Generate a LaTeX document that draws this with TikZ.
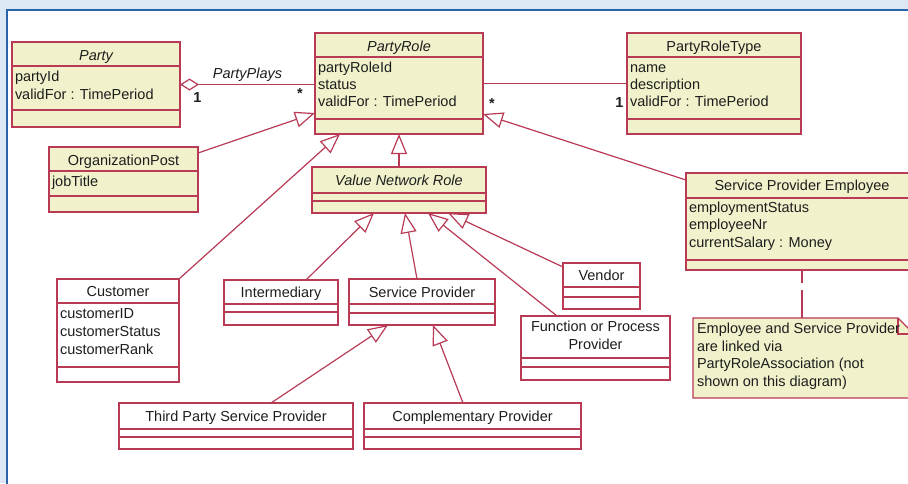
\documentclass[tikz,border=0pt]{standalone}
\usepackage{fontspec}
\setmainfont{Liberation Sans}
\usetikzlibrary{arrows.meta,calc}

\definecolor{umlred}{HTML}{B83A55}
\definecolor{umlfill}{HTML}{F1F1CB}
\definecolor{framebg}{HTML}{DCE8F4}
\definecolor{frameblue}{HTML}{2A64AC}
\definecolor{ink}{HTML}{1E1E1E}

% UML class box: name, x1, y1, x2, y2 (pixel grid, y downwards), fill, divider rows
\newcommand\umlclass[7]{%
  \node[classbox, fill=#6, minimum width=#4pt-#2pt, minimum height=#5pt-#3pt,
        anchor=north west] (#1) at (#2,#3) {};
  \foreach \d in {#7} \draw[classline] (#1.west |- 0,\d) -- (#1.east |- 0,\d);
}

\begin{document}
\begin{tikzpicture}[x=1pt, y=-1pt,
  every node/.style={inner sep=0pt, outer sep=0pt, text=ink,
                     font=\fontsize{14.5}{17}\selectfont},
  classbox/.style={draw=umlred, line width=1.2pt, rectangle},
  classline/.style={draw=umlred, line width=1.2pt},
  hdr/.style={anchor=base},
  ihdr/.style={anchor=base, font=\fontsize{14.5}{17}\selectfont\itshape},
  attr/.style={anchor=base west},
  mult/.style={anchor=base, font=\fontsize{14.5}{17}\selectfont\bfseries},
  gen/.style={draw=umlred, line width=1.2pt, line join=miter,
              -{Triangle[length=20pt, width=16pt, fill=white, line join=miter]}},
  agg/.style={draw=umlred, line width=1.2pt,
              {Diamond[length=19pt, width=12pt, fill=white]}-},
  assoc/.style={draw=umlred, line width=1.2pt},
  notelink/.style={draw=umlred, line width=1.2pt, dash pattern=on 13pt off 7pt on 60pt off 7pt}
]
\useasboundingbox (0,0) rectangle (908,483);
\clip (0,0) rectangle (908,483);

% frame
\fill[framebg] (0,0) rectangle (908,483);
\fill[white] (7,10) rectangle (908,483);
\draw[frameblue, line width=2.8pt] (7,485) -- (7,10) -- (910,10);

% ---- classes ----
\umlclass{party}{12}{42}{180}{127}{umlfill}{66,110}
\node[ihdr] (party-h) at (96,60) {Party};
\node[attr] (party-a1) at (15,81) {partyId};
\node[attr] (party-a2) at (15,99) {validFor : TimePeriod};

\umlclass{partyrole}{315}{33}{483}{134}{umlfill}{57,119}
\node[ihdr] (partyrole-h) at (399,51) {PartyRole};
\node[attr] (partyrole-a1) at (318,72) {partyRoleId};
\node[attr] (partyrole-a2) at (318,89) {status};
\node[attr] (partyrole-a3) at (318,106) {validFor : TimePeriod};

\umlclass{prt}{627}{33}{801}{134}{umlfill}{57,119}
\node[hdr] (prt-h) at (714,51) {PartyRoleType};
\node[attr] (prt-a1) at (630,72) {name};
\node[attr] (prt-a2) at (630,89) {description};
\node[attr] (prt-a3) at (630,106) {validFor : TimePeriod};

\umlclass{orgpost}{49}{147}{198}{212}{umlfill}{171,196}
\node[hdr] (orgpost-h) at (123.5,165) {OrganizationPost};
\node[attr] (orgpost-a1) at (52,186) {jobTitle};

\umlclass{vnr}{312}{167}{486}{213}{umlfill}{193,201}
\node[ihdr] (vnr-h) at (399,185.5) {Value Network Role};

\umlclass{spe}{686}{173}{918}{270}{umlfill}{198,260}
\node[hdr] (spe-h) at (802,190) {Service Provider Employee};
\node[attr] (spe-a1) at (689,212) {employmentStatus};
\node[attr] (spe-a2) at (689,229.5) {employeeNr};
\node[attr] (spe-a3) at (689,247) {currentSalary : Money};

\umlclass{customer}{57}{279}{179}{382}{white}{303,367}
\node[hdr] (customer-h) at (118,296.5) {Customer};
\node[attr] (customer-a1) at (60,318) {customerID};
\node[attr] (customer-a2) at (60,336) {customerStatus};
\node[attr] (customer-a3) at (60,354) {customerRank};

\umlclass{intermediary}{224}{280}{338}{325}{white}{304,312}
\node[hdr] (intermediary-h) at (281,297.5) {Intermediary};

\umlclass{sp}{349}{279}{495}{325}{white}{304,313}
\node[hdr] (sp-h) at (422,297) {Service Provider};

\umlclass{vendor}{563}{263}{640}{309}{white}{287,297}
\node[hdr] (vendor-h) at (601.5,280.5) {Vendor};

\umlclass{func}{521}{316}{670}{380}{white}{358,367}
\node[hdr] (func-h1) at (595.5,331.5) {Function or Process};
\node[hdr] (func-h2) at (595.5,349.5) {Provider};

\umlclass{thirdparty}{119}{403}{353}{449}{white}{429,437}
\node[hdr] (thirdparty-h) at (236,421.5) {Third Party Service Provider};

\umlclass{compl}{364}{403}{581}{449}{white}{429,437}
\node[hdr] (compl-h) at (472.5,421.5) {Complementary Provider};

% ---- note ----
\draw[draw=umlred, fill=umlfill, line width=1.2pt]
  (693,318) -- (898,318) -- (914,334) -- (914,398) -- (693,398) -- cycle;
\draw[draw=umlred, line width=1.2pt] (898,318) -- (898,334) -- (914,334);
\coordinate (note-top) at (802,318);
\node[attr] (note-l1) at (697,333) {Employee and Service Provider};
\node[attr] (note-l2) at (697,351) {are linked via};
\node[attr] (note-l3) at (697,368.5) {PartyRoleAssociation (not};
\node[attr] (note-l4) at (697,386) {shown on this diagram)};
\draw[notelink] (spe.south) -- (note-top);

% ---- associations ----
\draw[agg] (party.east) -- (party.east -| partyrole.west);
\node[ihdr] (plays) at (247.5,78) {PartyPlays};
\node[mult] (m-party) at (197.5,102) {1};
\node[mult] (m-role1) at (300,98) {*};

\draw[assoc] (partyrole.east) -- (prt.west);
\node[mult] (m-role2) at (492,108) {*};
\node[mult] (m-type) at (619.5,107) {1};

% ---- generalizations ----
\draw[gen] ($(orgpost.north east)+(0,6)$) -- ($(partyrole.south west)+(0,-21)$);
\draw[gen] (customer.north east) -- ($(partyrole.south west)+(25,0)$);
\draw[gen] (vnr.north) -- (vnr.north |- partyrole.south);
\draw[gen] ($(spe.north west)+(0,7)$) -- ($(partyrole.south east)+(0,-20)$);

\draw[gen] ($(intermediary.north east)+(-32,0)$) -- ($(vnr.south west)+(62,0)$);
\draw[gen] ($(sp.north west)+(68,0)$) -- ($(vnr.south west)+(93,0)$);
\draw[gen] ($(func.north west)+(36,0)$) -- ($(vnr.south west)+(116,0)$);
\draw[gen] ($(vendor.north west)+(0,4)$) -- ($(vnr.south west)+(136,0)$);

\draw[gen] ($(thirdparty.north west)+(152,0)$) -- ($(sp.south west)+(39,0)$);
\draw[gen] ($(compl.north west)+(99,0)$) -- ($(sp.south west)+(84,0)$);
\end{tikzpicture}
\end{document}
